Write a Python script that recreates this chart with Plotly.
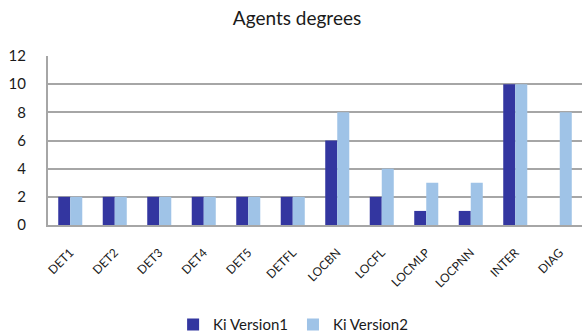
import plotly.graph_objects as go

categories = ["DET1", "DET2", "DET3", "DET4", "DET5", "DETFL", "LOCBN",
              "LOCFL", "LOCMLP", "LOCPNN", "INTER", "DIAG"]
ki_version1 = [2, 2, 2, 2, 2, 2, 6, 2, 1, 1, 10, 0]
ki_version2 = [2, 2, 2, 2, 2, 2, 8, 4, 3, 3, 10, 8]
y_ticks = [0, 2, 4, 6, 8, 10, 12]

font_family = "Lato, Open Sans, sans-serif"
text_color = "#1a1a1a"

fig = go.Figure()
fig.add_trace(go.Bar(x=categories, y=ki_version1, name="Ki Version1",
                     marker=dict(color="#3336a0", line=dict(width=0))))
fig.add_trace(go.Bar(x=categories, y=ki_version2, name="Ki Version2",
                     marker=dict(color="#9fc3e7", line=dict(width=0))))

fig.update_layout(
    width=582, height=335,
    margin=dict(l=48, r=0, t=56, b=110, autoexpand=False),
    paper_bgcolor="white", plot_bgcolor="white",
    barmode="group", bargap=0.46, bargroupgap=0,
    font=dict(family=font_family, color=text_color),
    title=dict(text="Agents degrees", x=297 / 582, xanchor="center",
               y=1 - 18 / 335, yanchor="middle",
               font=dict(size=19, family=font_family, color=text_color)),
    legend=dict(orientation="h", x=0.459, xanchor="center",
                y=-0.59, yanchor="middle",
                font=dict(size=15, family=font_family, color=text_color),
                itemwidth=30, traceorder="normal"),
    xaxis=dict(tickangle=-45, automargin=False,
               tickfont=dict(size=12, family=font_family, color=text_color),
               showline=True, linecolor="#a6a6a6", linewidth=2,
               showgrid=False, ticks="", ticklabelstandoff=14),
    yaxis=dict(range=[0, 12], tickvals=y_ticks, automargin=False,
               tickfont=dict(size=15, family=font_family, color=text_color),
               showgrid=True, gridcolor="#a6a6a6", gridwidth=2,
               showline=True, linecolor="#a6a6a6", linewidth=2,
               zeroline=False, ticks="", ticklabelstandoff=17),
)

fig.write_html("out.html")
